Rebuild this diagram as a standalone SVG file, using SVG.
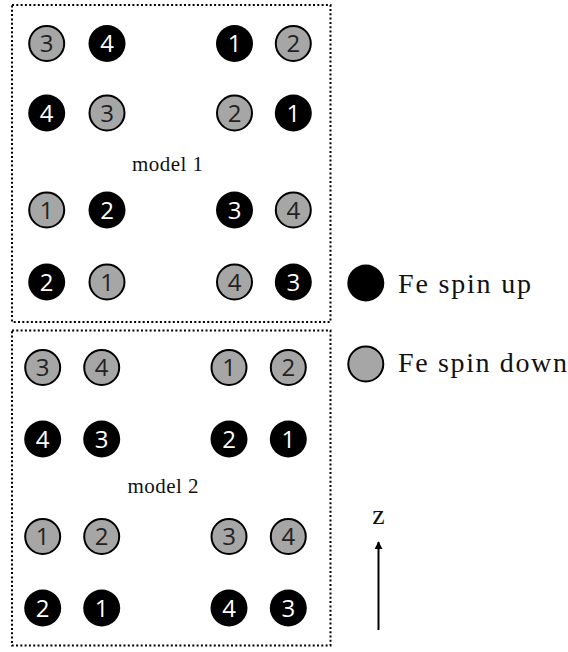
<svg xmlns="http://www.w3.org/2000/svg" width="568" height="652" viewBox="0 0 568 652">
<style>
.box{fill:none;stroke:#000;stroke-width:2;stroke-dasharray:2 2.3}
.up{fill:#000}
.dn{fill:#a6a6a6;stroke:#000;stroke-width:2}
.nu{font-family:"Open Sans","DejaVu Sans",sans-serif;font-size:24px;fill:#fff;text-anchor:middle}
.nd{font-family:"Open Sans","DejaVu Sans",sans-serif;font-size:24px;fill:#222;text-anchor:middle}
.lbl{font-family:"Liberation Serif","DejaVu Serif",serif;fill:#111}
</style>
<defs>
<marker id="ah" viewBox="0 0 10 10" refX="9" refY="5" markerWidth="4" markerHeight="4" orient="auto" markerUnits="strokeWidth">
<path d="M0,0 L10,5 L0,10 z" fill="#000"/>
</marker>
</defs>
<g id="model1">
<rect class="box" x="12" y="5" width="318.5" height="317"/>
<text class="lbl" x="167.5" y="171" font-size="21" text-anchor="middle" textLength="71">model 1</text>
<g id="m1-a"><circle class="dn" cx="46.7" cy="43.5" r="17.5"/><text class="nd" x="46.7" y="52">3</text></g>
<g id="m1-b"><circle class="up" cx="107" cy="43.5" r="18.5"/><text class="nu" x="107" y="52">4</text></g>
<g id="m1-c"><circle class="up" cx="234.5" cy="43.5" r="18.5"/><text class="nu" x="234.5" y="52">1</text></g>
<g id="m1-d"><circle class="dn" cx="293.3" cy="43.5" r="17.5"/><text class="nd" x="293.3" y="52">2</text></g>
<g id="m1-e"><circle class="up" cx="46.7" cy="113" r="18.5"/><text class="nu" x="46.7" y="121.5">4</text></g>
<g id="m1-f"><circle class="dn" cx="107" cy="113" r="17.5"/><text class="nd" x="107" y="121.5">3</text></g>
<g id="m1-g"><circle class="dn" cx="234.5" cy="113" r="17.5"/><text class="nd" x="234.5" y="121.5">2</text></g>
<g id="m1-h"><circle class="up" cx="293.3" cy="113" r="18.5"/><text class="nu" x="293.3" y="121.5">1</text></g>
<g id="m1-i"><circle class="dn" cx="46.7" cy="210" r="17.5"/><text class="nd" x="46.7" y="218.5">1</text></g>
<g id="m1-j"><circle class="up" cx="107" cy="210" r="18.5"/><text class="nu" x="107" y="218.5">2</text></g>
<g id="m1-k"><circle class="up" cx="234.5" cy="210" r="18.5"/><text class="nu" x="234.5" y="218.5">3</text></g>
<g id="m1-l"><circle class="dn" cx="293.3" cy="210" r="17.5"/><text class="nd" x="293.3" y="218.5">4</text></g>
<g id="m1-m"><circle class="up" cx="46.7" cy="282" r="18.5"/><text class="nu" x="46.7" y="290.5">2</text></g>
<g id="m1-n"><circle class="dn" cx="107" cy="282" r="17.5"/><text class="nd" x="107" y="290.5">1</text></g>
<g id="m1-o"><circle class="dn" cx="234.5" cy="282" r="17.5"/><text class="nd" x="234.5" y="290.5">4</text></g>
<g id="m1-p"><circle class="up" cx="293.3" cy="282" r="18.5"/><text class="nu" x="293.3" y="290.5">3</text></g>
</g>
<g id="model2">
<rect class="box" x="12" y="330.5" width="318.5" height="315"/>
<text class="lbl" x="163" y="493" font-size="21" text-anchor="middle" textLength="71">model 2</text>
<g id="m2-a"><circle class="dn" cx="42.7" cy="367.5" r="17.5"/><text class="nd" x="42.7" y="376">3</text></g>
<g id="m2-b"><circle class="dn" cx="101.7" cy="367.5" r="17.5"/><text class="nd" x="101.7" y="376">4</text></g>
<g id="m2-c"><circle class="dn" cx="229" cy="367.5" r="17.5"/><text class="nd" x="229" y="376">1</text></g>
<g id="m2-d"><circle class="dn" cx="288.3" cy="367.5" r="17.5"/><text class="nd" x="288.3" y="376">2</text></g>
<g id="m2-e"><circle class="up" cx="42.7" cy="439" r="18.5"/><text class="nu" x="42.7" y="447.5">4</text></g>
<g id="m2-f"><circle class="up" cx="101.7" cy="439" r="18.5"/><text class="nu" x="101.7" y="447.5">3</text></g>
<g id="m2-g"><circle class="up" cx="229" cy="439" r="18.5"/><text class="nu" x="229" y="447.5">2</text></g>
<g id="m2-h"><circle class="up" cx="288.3" cy="439" r="18.5"/><text class="nu" x="288.3" y="447.5">1</text></g>
<g id="m2-i"><circle class="dn" cx="42.7" cy="536.5" r="17.5"/><text class="nd" x="42.7" y="545">1</text></g>
<g id="m2-j"><circle class="dn" cx="101.7" cy="536.5" r="17.5"/><text class="nd" x="101.7" y="545">2</text></g>
<g id="m2-k"><circle class="dn" cx="229" cy="536.5" r="17.5"/><text class="nd" x="229" y="545">3</text></g>
<g id="m2-l"><circle class="dn" cx="288.3" cy="536.5" r="17.5"/><text class="nd" x="288.3" y="545">4</text></g>
<g id="m2-m"><circle class="up" cx="42.7" cy="608" r="18.5"/><text class="nu" x="42.7" y="616.5">2</text></g>
<g id="m2-n"><circle class="up" cx="101.7" cy="608" r="18.5"/><text class="nu" x="101.7" y="616.5">1</text></g>
<g id="m2-o"><circle class="up" cx="229" cy="608" r="18.5"/><text class="nu" x="229" y="616.5">4</text></g>
<g id="m2-p"><circle class="up" cx="288.3" cy="608" r="18.5"/><text class="nu" x="288.3" y="616.5">3</text></g>
</g>
<g id="legend-up"><circle class="up" cx="365.8" cy="283" r="18.5"/><text class="lbl" x="398" y="292.5" font-size="28" textLength="133">Fe spin up</text></g>
<g id="legend-down"><circle class="dn" cx="365.8" cy="364" r="17.5"/><text class="lbl" x="398" y="372" font-size="28" textLength="169">Fe spin down</text></g>
<g id="axis">
<text class="lbl" x="378.5" y="523.5" font-size="28" text-anchor="middle">z</text>
</g>
<g id="connectors">
<line x1="378.5" y1="630" x2="378.5" y2="542" stroke="#000" stroke-width="2" marker-end="url(#ah)"/>
</g>
</svg>
